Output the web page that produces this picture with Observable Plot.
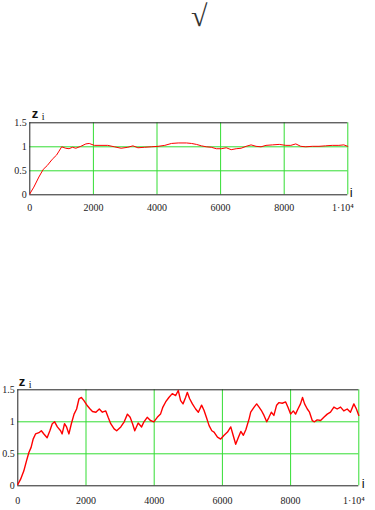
<!DOCTYPE html>
<html><head><meta charset="utf-8">
<script src="https://cdn.jsdelivr.net/npm/d3@7"></script>
<script src="https://cdn.jsdelivr.net/npm/@observablehq/plot@0.6"></script>
<style>
body{margin:0;background:#fff;}
#root{position:relative;width:375px;height:510px;overflow:hidden;background:#fff;}
.chart{position:absolute;left:0;}
#rad{position:absolute;left:191px;top:0px;font-size:30px;font-family:'Liberation Serif';color:#333;line-height:32px;}
</style></head><body>
<div id="root"><div id="rad">√</div></div>
<script>
const xTicks = [0, 2000, 4000, 6000, 8000, 10000];
const xTickLabels = ["0", "2000", "4000", "6000", "8000", "1·10⁴"];
const yTicks = [0, 0.5, 1, 1.5];
const yTickLabels = ["0", "0.5", "1", "1.5"];

const i1 = [0,127,285,422,549,707,845,919,1003,1130,1235,1341,1447,1605,1763,1869,2028,2239,2450,2661,2872,3083,3242,3400,3611,3822,4033,4245,4456,4667,4927,5083,5240,5396,5552,5708,5865,6021,6177,6333,6490,6646,6802,6958,7115,7271,7427,7635,7844,8052,8208,8365,8521,8677,8885,9094,9302,9510,9719,9875,10000];
const z1 = [0.02,0.16,0.37,0.53,0.61,0.74,0.83,0.91,1.00,0.97,0.96,0.99,0.97,1.01,1.06,1.07,1.03,1.03,1.03,1.00,0.97,0.99,1.02,0.98,0.99,1.00,1.01,1.03,1.07,1.08,1.08,1.07,1.05,1.02,1.00,0.99,0.96,0.96,0.98,0.94,0.96,0.97,1.01,1.04,1.01,1.00,1.03,1.04,1.05,1.03,1.03,1.06,1.01,1.00,1.01,1.01,1.02,1.03,1.03,1.04,1.01];

const i2 = [0,80,175,255,325,390,450,520,620,690,765,860,940,1010,1080,1160,1255,1300,1370,1430,1500,1570,1650,1725,1795,1865,1940,2040,2120,2190,2290,2390,2480,2580,2650,2725,2825,2900,3020,3120,3215,3295,3365,3430,3530,3630,3700,3795,3890,3990,4090,4185,4255,4335,4430,4530,4630,4705,4775,4845,4920,4970,5040,5120,5215,5295,5390,5460,5530,5610,5690,5755,5855,5950,6050,6150,6245,6315,6390,6470,6540,6615,6690,6785,6830,6930,7005,7075,7140,7220,7300,7365,7435,7510,7590,7660,7755,7855,7920,8000,8080,8145,8215,8290,8350,8410,8490,8555,8635,8700,8780,8880,8975,9075,9170,9270,9365,9465,9560,9660,9755,9855,9930,10000];
const z2 = [0.02,0.10,0.23,0.39,0.52,0.60,0.73,0.81,0.83,0.86,0.81,0.75,0.86,0.97,1.00,0.92,0.86,0.81,0.97,0.92,0.81,0.97,1.12,1.20,1.36,1.38,1.33,1.25,1.20,1.16,1.15,1.20,1.15,1.17,1.07,0.97,0.89,0.86,0.92,1.00,1.12,1.07,0.97,0.86,0.98,0.92,1.00,1.07,1.02,1.00,1.07,1.12,1.23,1.31,1.38,1.44,1.41,1.49,1.33,1.28,1.38,1.46,1.36,1.28,1.20,1.15,1.26,1.18,1.07,0.94,0.86,0.84,0.76,0.73,0.79,0.84,0.92,0.79,0.65,0.76,0.85,0.79,0.88,1.05,1.15,1.23,1.28,1.23,1.18,1.10,1.00,1.07,1.15,1.10,1.26,1.30,1.29,1.31,1.23,1.12,1.17,1.12,1.20,1.28,1.38,1.28,1.20,1.15,1.02,1.00,1.03,1.02,1.07,1.12,1.15,1.23,1.20,1.23,1.17,1.20,1.15,1.28,1.20,1.10];

const SERIF = "Liberation Serif";
function chart(I, Z, o) {
  const data = I.map((x, k) => ({i: x, z: Z[k]}));
  const green = "#3d3";
  const serif = {fontFamily: SERIF, fontSize: 10, fill: "#222"};
  return Plot.plot({
    width: 375, height: o.h,
    marginLeft: o.ml, marginRight: o.mr, marginTop: o.mt, marginBottom: o.mb,
    style: {background: "transparent", fontFamily: SERIF, fontSize: "10px", color: "#222", overflow: "visible"},
    x: {domain: [0, 10000]},
    y: {domain: [0, 1.5]},
    marks: [
      Plot.gridX(xTicks.slice(1), {stroke: green, strokeOpacity: 1}),
      Plot.gridY([0.5, 1], {stroke: green, strokeOpacity: 1}),
      Plot.ruleY([0, 1.5], {stroke: "#222"}),
      Plot.ruleX([0], {stroke: "#222"}),
      Plot.line(data, {x: "i", y: "z", stroke: "red", strokeWidth: o.sw}),
      Plot.axisY(yTicks, {tickSize: 0, tickPadding: 3, label: null, ...serif, tickFormat: d => yTickLabels[yTicks.indexOf(d)]}),
      Plot.axisX(xTicks.slice(0, -1), {tickSize: 0, tickPadding: o.xp, label: null, ...serif, tickFormat: d => xTickLabels[xTicks.indexOf(d)]}),
      Plot.axisX([10000], {tickSize: 0, tickPadding: o.xp, label: null, dx: -5, ...serif, tickFormat: d => xTickLabels[xTicks.indexOf(d)]}),
      Plot.text(["z"], {frameAnchor: "top-left", textAnchor: "start", lineAnchor: "bottom", dx: o.zdx, dy: o.zdy, fontWeight: "bold", fontSize: 13, fontFamily: "Liberation Sans", fill: "#111"}),
      Plot.text(["i"], {frameAnchor: "top-left", textAnchor: "start", lineAnchor: "bottom", dx: o.zdx + 10, dy: o.zdy + 2, fontSize: 10, fontFamily: SERIF, fill: "#111"}),
      Plot.text(["i"], {frameAnchor: "bottom-right", textAnchor: "start", lineAnchor: "bottom", dx: o.idx, dy: 2, fontSize: 13, fontFamily: "Liberation Sans", fill: "#111"})
    ]
  });
}

function serifTicks(svg) {
  d3.select(svg).selectAll("g[aria-label^='x-axis'] text, g[aria-label^='y-axis'] text")
    .style("font-family", "'Liberation Serif'")
    .style("font-size", "10px");
}

const root = document.getElementById("root");
const c1 = chart(i1, z1, {h: 120, ml: 29.3, mr: 27.7, mt: 22.3, mb: 25.7, sw: 1, xp: 9, zdx: 2, zdy: -5, idx: 2});
c1.classList.add("chart"); c1.style.top = "100px";
serifTicks(c1);
root.appendChild(c1);
const c2 = chart(i2, z2, {h: 145, ml: 17.3, mr: 16.7, mt: 24.3, mb: 24.7, sw: 1.4, xp: 11, zdx: 1, zdy: -4, idx: 3});
c2.classList.add("chart"); c2.style.top = "365px";
serifTicks(c2);
root.appendChild(c2);
</script>
</body></html>
